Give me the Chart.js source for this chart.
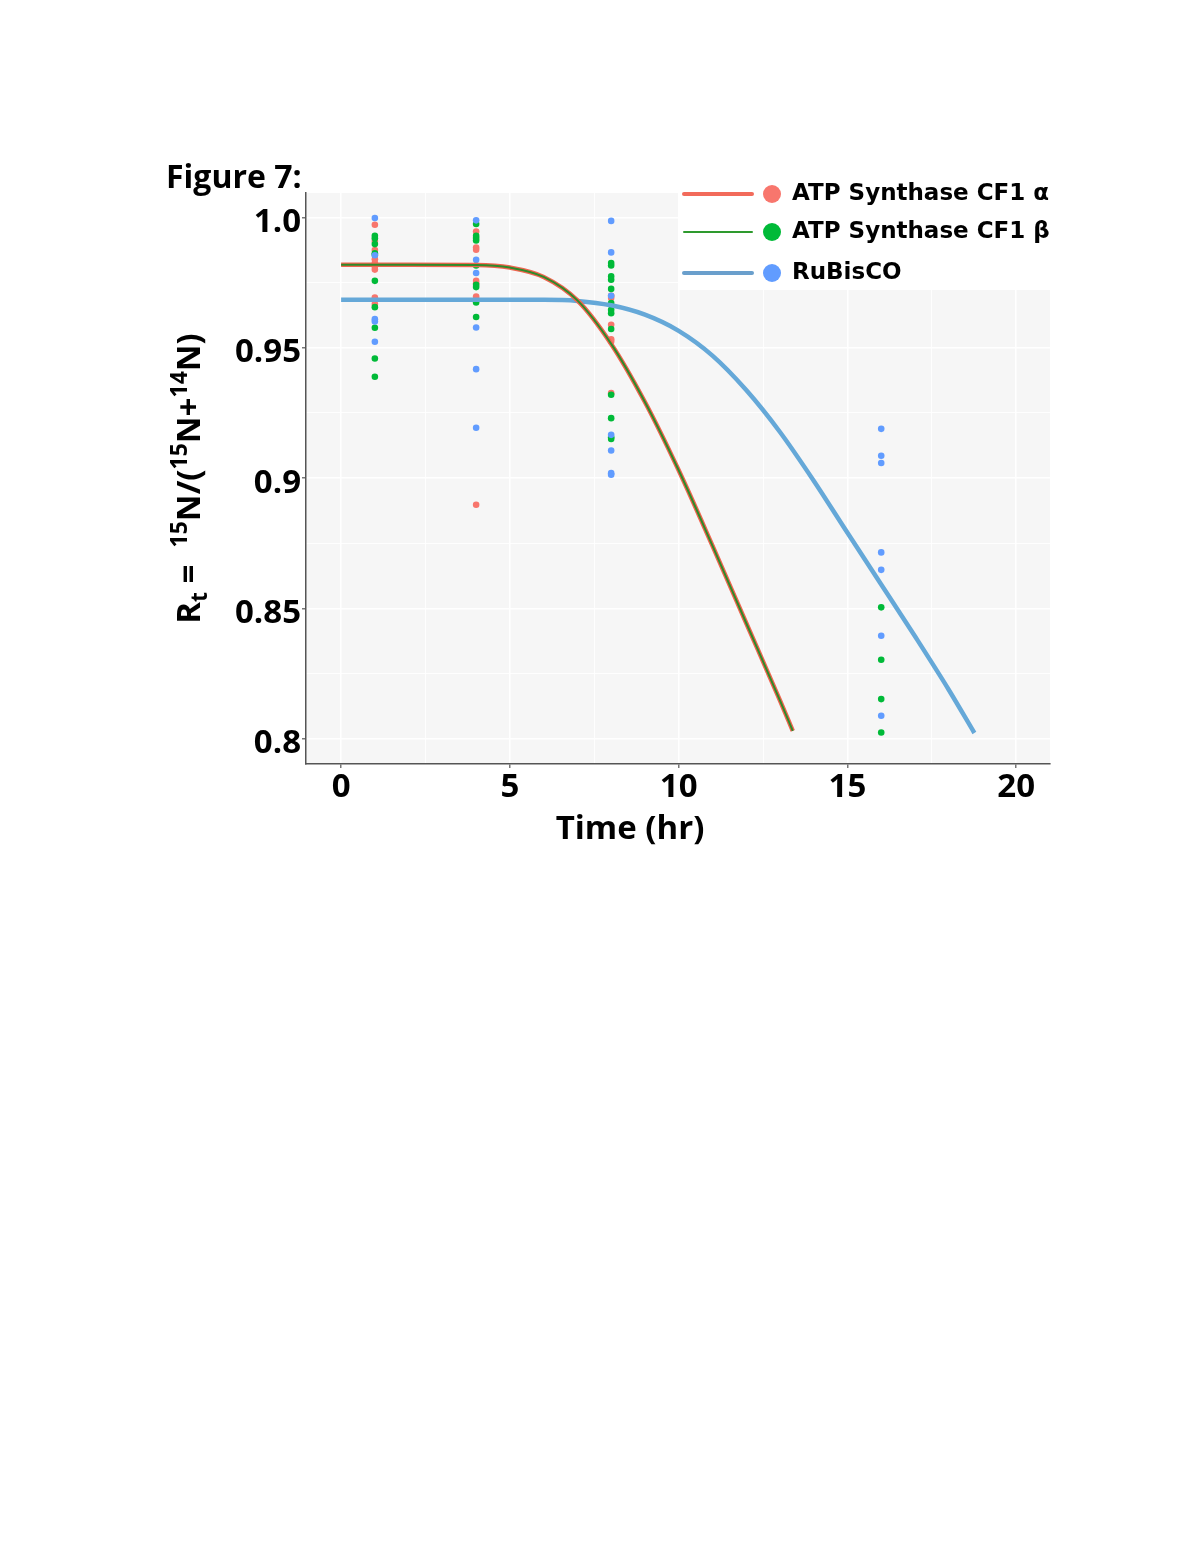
<!DOCTYPE html>
<html>
<head>
<meta charset="utf-8">
<title>Figure 7</title>
<script src="https://cdn.jsdelivr.net/npm/chart.js@4.4.1/dist/chart.umd.min.js"></script>
<style>
  html, body { margin: 0; padding: 0; background: #ffffff; }
  #wrap { width: 1200px; height: 1553px; }
</style>
</head>
<body>
<div id="wrap"><canvas id="fig7" width="1200" height="1553"></canvas></div>
<script>
// measured points, R_t at each sampling time (hr)
const alpha1 = [0.9972, 0.9910, 0.9875, 0.9840, 0.9825, 0.9812, 0.9800, 0.9693, 0.9668];
const alpha4 = [0.9946, 0.9885, 0.9876, 0.9757, 0.9748, 0.9697, 0.9687, 0.8898];
const alpha8 = [0.9700, 0.9691, 0.9588, 0.9533, 0.9524, 0.9326];
const alpha16 = [];

const beta1 = [0.9930, 0.9920, 0.9898, 0.9863, 0.9857, 0.9757, 0.9656, 0.9577, 0.9459, 0.9389];
const beta4 = [0.9975, 0.9930, 0.9921, 0.9912, 0.9816, 0.9742, 0.9733, 0.9674, 0.9618];
const beta8 = [0.9825, 0.9816, 0.9774, 0.9761, 0.9726, 0.9672, 0.9646, 0.9633, 0.9572, 0.9320, 0.9230, 0.9157, 0.9150];
const beta16 = [0.8504, 0.8303, 0.8152, 0.8024];

const rubisco1 = [0.9998, 0.9855, 0.9610, 0.9601, 0.9523];
const rubisco4 = [0.9989, 0.9838, 0.9787, 0.9578, 0.9418, 0.9193];
const rubisco8 = [0.9987, 0.9866, 0.9700, 0.9166, 0.9106, 0.9019, 0.9013];
const rubisco16 = [0.9189, 0.9086, 0.9058, 0.8715, 0.8648, 0.8395, 0.8088];

// fitted curves
const atpFitTime = [0, 2, 4, 5, 6, 7, 8, 9, 10, 11, 12, 13, 13.38];
const alphaFitY = [0.9819, 0.9819, 0.9818, 0.9808, 0.9772, 0.9682, 0.9515, 0.9292, 0.9030, 0.8741, 0.8444, 0.8147, 0.8030];
const betaFitY = [0.9819, 0.9819, 0.9818, 0.9808, 0.9772, 0.9682, 0.9515, 0.9292, 0.9030, 0.8741, 0.8444, 0.8147, 0.8030];

const rubiscoFitTime = [0, 3, 6, 7, 8, 9, 10, 11, 12, 13, 14, 15, 16, 17, 18, 18.76];
const rubiscoFitY = [0.9684, 0.9684, 0.9684, 0.9680, 0.9663, 0.9627, 0.9565, 0.9470, 0.9338, 0.9177, 0.8990, 0.8790, 0.8592, 0.8393, 0.8188, 0.8022];

const seriesNames = ['ATP Synthase CF1 \u03b1', 'ATP Synthase CF1 \u03b2', 'RuBisCO'];

const xTickValues = [0, 5, 10, 15, 20];
const xTickLabels = ['0', '5', '10', '15', '20'];
const yTickValues = [0.8, 0.85, 0.9, 0.95, 1.0];
const yTickLabels = ['0.8', '0.85', '0.9', '0.95', '1.0'];

const tickFont = { family: 'Open Sans', weight: 'bold', size: 33 };

function toPoints(groups) {
    const pts = [];
    groups.forEach(function(g) {
        g.values.forEach(function(v) { pts.push({ x: g.t, y: v }); });
    });
    return pts;
}

function zipLine(xs, ys) {
    return xs.map(function(x, i) { return { x: x, y: ys[i] }; });
}

function findTick(list, v) {
    for (let i = 0; i < list.length; i++) {
        if (Math.abs(list[i] - v) < 1e-6) return i;
    }
    return -1;
}

const panelBackground = {
    id: 'panelBackground',
    beforeDraw(chart) {
        const { ctx, chartArea: a } = chart;
        ctx.save();
        ctx.fillStyle = '#f6f6f6';
        ctx.fillRect(a.left, a.top, a.right - a.left, a.bottom - a.top);
        ctx.restore();
    }
};

// titles (y one has sub/superscripts), figure label and the legend box
const extras = {
    id: 'extras',
    afterDraw(chart) {
        const { ctx, chartArea: a } = chart;
        ctx.save();

        ctx.fillStyle = '#000';
        ctx.font = 'bold 32px "Open Sans"';
        ctx.textAlign = 'left';
        ctx.textBaseline = 'alphabetic';
        ctx.fillText('Figure 7:', 166, 188);

        ctx.font = 'bold 33px "Open Sans"';
        ctx.textAlign = 'center';
        ctx.textBaseline = 'middle';
        ctx.fillText('Time (hr)', 630, 830);
        ctx.textAlign = 'left';
        ctx.textBaseline = 'alphabetic';

        const parts = [
            { t: 'R', s: 0 }, { t: 't', s: 1 }, { t: ' =  ', s: 0 },
            { t: '15', s: -1 }, { t: 'N/(', s: 0 },
            { t: '15', s: -1 }, { t: 'N+', s: 0 },
            { t: '14', s: -1 }, { t: 'N)', s: 0 }
        ];
        const big = 'bold 33px "Open Sans"';
        const small = 'bold 23px "Open Sans"';
        let total = 0;
        parts.forEach(function(p) {
            ctx.font = p.s === 0 ? big : small;
            p.w = ctx.measureText(p.t).width;
            total += p.w;
        });
        ctx.translate(200, (a.top + a.bottom) / 2);
        ctx.rotate(-Math.PI / 2);
        let x = -total / 2;
        parts.forEach(function(p) {
            ctx.font = p.s === 0 ? big : small;
            const dy = p.s === -1 ? -13 : (p.s === 1 ? 7 : 0);
            ctx.fillText(p.t, x, dy);
            x += p.w;
        });
        ctx.setTransform(1, 0, 0, 1, 0, 0);

        // legend
        const boxLeft = a.right - 372;
        ctx.fillStyle = '#ffffff';
        ctx.fillRect(boxLeft, a.top, a.right - boxLeft, 97);
        const rows = [194, 232, 273];
        const legendItems = [
            { line: '#f26b5b', lw: 4, dot: '#f8766d' },
            { line: '#2e9a2e', lw: 2, dot: '#00ba38' },
            { line: '#6a9fcc', lw: 4, dot: '#619cff' }
        ];
        ctx.font = 'bold 23px "DejaVu Sans"';
        ctx.textBaseline = 'middle';
        legendItems.forEach(function(it, i) {
            const y = rows[i];
            ctx.strokeStyle = it.line;
            ctx.lineWidth = it.lw;
            ctx.lineCap = 'round';
            ctx.beginPath();
            ctx.moveTo(boxLeft + 6, y);
            ctx.lineTo(boxLeft + 74, y);
            ctx.stroke();
            ctx.fillStyle = it.dot;
            ctx.beginPath();
            ctx.arc(boxLeft + 94, y, 9, 0, Math.PI * 2);
            ctx.fill();
            ctx.fillStyle = '#000';
            ctx.fillText(seriesNames[i], boxLeft + 114, y);
        });
        ctx.restore();
    }
};

const ctx = document.getElementById('fig7').getContext('2d');

new Chart(ctx, {
    type: 'scatter',
    data: {
        datasets: [
            {
                label: seriesNames[1] + ' fit',
                data: zipLine(atpFitTime, betaFitY),
                showLine: true,
                borderColor: '#2e8a2a',
                borderWidth: 2,
                pointRadius: 0,
                cubicInterpolationMode: 'monotone',
                order: 0
            },
            {
                label: seriesNames[0] + ' fit',
                data: zipLine(atpFitTime, alphaFitY),
                showLine: true,
                borderColor: '#f0644f',
                borderWidth: 4.5,
                pointRadius: 0,
                cubicInterpolationMode: 'monotone',
                order: 1
            },
            {
                label: seriesNames[2] + ' fit',
                data: zipLine(rubiscoFitTime, rubiscoFitY),
                showLine: true,
                borderColor: '#65a8d8',
                borderWidth: 4.5,
                pointRadius: 0,
                cubicInterpolationMode: 'monotone',
                order: 2
            },
            {
                label: seriesNames[2],
                data: toPoints([{ t: 1, values: rubisco1 }, { t: 4, values: rubisco4 }, { t: 8, values: rubisco8 }, { t: 16, values: rubisco16 }]),
                backgroundColor: '#619cff',
                borderWidth: 0,
                pointRadius: 3.3,
                order: 3
            },
            {
                label: seriesNames[1],
                data: toPoints([{ t: 1, values: beta1 }, { t: 4, values: beta4 }, { t: 8, values: beta8 }, { t: 16, values: beta16 }]),
                backgroundColor: '#00ba38',
                borderWidth: 0,
                pointRadius: 3.3,
                order: 4
            },
            {
                label: seriesNames[0],
                data: toPoints([{ t: 1, values: alpha1 }, { t: 4, values: alpha4 }, { t: 8, values: alpha8 }, { t: 16, values: alpha16 }]),
                backgroundColor: '#f8766d',
                borderWidth: 0,
                pointRadius: 3.3,
                order: 5
            }
        ]
    },
    options: {
        responsive: false,
        animation: false,
        events: [],
        layout: {
            padding: { left: 206, top: 193, right: 150, bottom: 702 }
        },
        plugins: {
            legend: { display: false },
            tooltip: { enabled: false }
        },
        scales: {
            x: {
                type: 'linear',
                min: -1.04,
                max: 21.0,
                afterFit: function(scale) { scale.height = 87; },
                border: { display: true, color: '#555', width: 1.5 },
                grid: {
                    color: '#ffffff',
                    lineWidth: function(c) { return findTick(xTickValues, c.tick.value) >= 0 ? 1.6 : 0.9; },
                    tickColor: function(c) { return findTick(xTickValues, c.tick.value) >= 0 ? '#555' : 'rgba(0,0,0,0)'; },
                    tickLength: 4,
                    tickWidth: 1.2
                },
                ticks: {
                    stepSize: 2.5,
                    includeBounds: false,
                    autoSkip: false,
                    maxRotation: 0,
                    padding: 0,
                    color: '#000',
                    font: tickFont,
                    callback: function(v) {
                        const i = findTick(xTickValues, v);
                        return i >= 0 ? xTickLabels[i] : '';
                    }
                }
            },
            y: {
                type: 'linear',
                min: 0.7903,
                max: 1.0094,
                afterFit: function(scale) { scale.width = 100; },
                border: { display: true, color: '#555', width: 1.5 },
                grid: {
                    color: '#ffffff',
                    lineWidth: function(c) { return findTick(yTickValues, c.tick.value) >= 0 ? 1.6 : 0.9; },
                    tickColor: function(c) { return findTick(yTickValues, c.tick.value) >= 0 ? '#555' : 'rgba(0,0,0,0)'; },
                    tickLength: 4,
                    tickWidth: 1.2
                },
                ticks: {
                    stepSize: 0.025,
                    includeBounds: false,
                    autoSkip: false,
                    padding: 1,
                    color: '#000',
                    // two-line label with an empty first line nudges the text a few px down, like the original
                    font: { family: 'Open Sans', weight: 'bold', size: 33, lineHeight: '10px' },
                    callback: function(v) {
                        const i = findTick(yTickValues, v);
                        return i >= 0 ? ['', yTickLabels[i]] : '';
                    }
                }
            }
        }
    },
    plugins: [panelBackground, extras]
});
</script>
</body>
</html>
